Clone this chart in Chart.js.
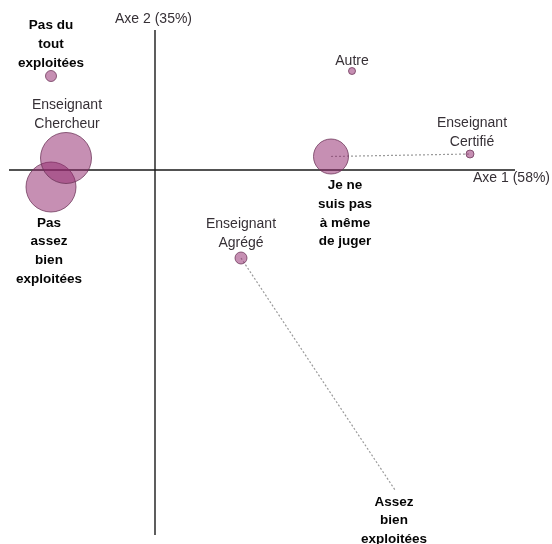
<!DOCTYPE html>
<html lang="fr">
<head>
<meta charset="utf-8">
<title>Analyse factorielle des correspondances</title>
<script src="https://cdn.jsdelivr.net/npm/chart.js@4/dist/chart.umd.min.js"></script>
<style>
  html, body { margin: 0; padding: 0; background: #fff; }
  #wrap { width: 552px; height: 544px; }
</style>
</head>
<body>
<div id="wrap"><canvas id="afc" width="552" height="544"></canvas></div>
<script>
// Modalités projetées sur le plan factoriel (Axe 1 / Axe 2)
const modalites = [
  'Pas du tout exploitées',
  'Pas assez bien exploitées',
  'Je ne suis pas à même de juger',
  'Assez bien exploitées',
  'Enseignant Chercheur',
  'Autre',
  'Enseignant Certifié',
  'Enseignant Agrégé'
];
// Coordonnées factorielles
const axe1 = [-1.04, -1.04, 1.76, 2.40, -0.89, 1.97, 3.15, 0.86];
const axe2 = [0.94, -0.17, 0.135, -3.20, 0.12, 0.99, 0.16, -0.88];
// Poids des modalités (rayon des bulles)
const poids = [5.5, 25, 17.5, 0, 25.5, 3.5, 4, 6];
// Modalités mises en évidence (réponses)
const reponse = [true, true, true, true, false, false, false, false];
// Liens pointillés entre modalités (indices)
const liens = [[2, 6], [7, 3]];

const titreAxe1 = 'Axe 1 (58%)';
const titreAxe2 = 'Axe 2 (35%)';

// Mise en page des étiquettes : texte découpé en lignes, position relative au point
const etiquettes = [
  { lignes: ['Pas du', 'tout', 'exploitées'], dx: 0, dy: -13, sens: 'haut' },
  { lignes: ['Pas', 'assez', 'bien', 'exploitées'], dx: -2, dy: 36, sens: 'bas' },
  { lignes: ['Je ne', 'suis pas', 'à même', 'de juger'], dx: 14, dy: 29, sens: 'bas' },
  { lignes: ['Assez', 'bien', 'exploitées'], dx: -1, dy: 12, sens: 'bas' },
  { lignes: ['Enseignant', 'Chercheur'], dx: 1, dy: -34, sens: 'haut' },
  { lignes: ['Autre'], dx: 0, dy: -10, sens: 'haut' },
  { lignes: ['Enseignant', 'Certifié'], dx: 2, dy: -12, sens: 'haut' },
  { lignes: ['Enseignant', 'Agrégé'], dx: 0, dy: -15, sens: 'haut' }
];

const points = axe1.map((x, i) => ({ x, y: axe2[i], r: poids[i] }));

const axesPlugin = {
  id: 'axesFactoriels',
  beforeDatasetsDraw(chart) {
    const { ctx, scales: { x, y } } = chart;
    const x0 = x.getPixelForValue(0), y0 = y.getPixelForValue(0);
    ctx.save();
    ctx.strokeStyle = '#1a1a1a';
    ctx.lineWidth = 1.4;
    ctx.beginPath();
    ctx.moveTo(x.getPixelForValue(-1.46), y0);
    ctx.lineTo(x.getPixelForValue(3.60), y0);
    ctx.moveTo(x0, y.getPixelForValue(1.40));
    ctx.lineTo(x0, y.getPixelForValue(-3.65));
    ctx.stroke();

    // Liens pointillés
    ctx.strokeStyle = '#9a9a9a';
    ctx.lineWidth = 1.2;
    ctx.setLineDash([2, 2]);
    liens.forEach(([a, b]) => {
      ctx.beginPath();
      ctx.moveTo(x.getPixelForValue(axe1[a]), y.getPixelForValue(axe2[a]));
      ctx.lineTo(x.getPixelForValue(axe1[b]), y.getPixelForValue(axe2[b]));
      ctx.stroke();
    });
    ctx.restore();
  },
  afterDatasetsDraw(chart) {
    const { ctx, scales: { x, y } } = chart;
    ctx.save();
    ctx.textAlign = 'center';
    ctx.textBaseline = 'middle';
    etiquettes.forEach((e, i) => {
      const px = x.getPixelForValue(axe1[i]) + e.dx;
      const py = y.getPixelForValue(axe2[i]) + e.dy;
      const gras = reponse[i];
      const pas = gras ? 18.7 : 18.5;
      ctx.font = gras ? 'bold 13.5px "Liberation Sans", Arial, sans-serif'
                      : '14px "Liberation Sans", Arial, sans-serif';
      ctx.fillStyle = gras ? '#050505' : '#363036';
      const n = e.lignes.length;
      e.lignes.forEach((t, k) => {
        const ly = e.sens === 'haut' ? py - (n - 1 - k) * pas : py + k * pas;
        ctx.fillText(t, px, ly);
      });
    });

    // Titres des axes
    ctx.font = '14px "Liberation Sans", Arial, sans-serif';
    ctx.fillStyle = '#363036';
    ctx.textAlign = 'left';
    ctx.fillText(titreAxe2, x.getPixelForValue(0) - 40, y.getPixelForValue(1.51));
    ctx.fillText(titreAxe1, x.getPixelForValue(3.18), y.getPixelForValue(-0.08));
    ctx.restore();
  }
};

new Chart(document.getElementById('afc'), {
  type: 'bubble',
  data: {
    datasets: [{
      data: points,
      backgroundColor: 'rgba(145, 40, 110, 0.52)',
      borderColor: 'rgba(105, 50, 85, 0.75)',
      borderWidth: 1,
      hoverRadius: 0,
      clip: false
    }]
  },
  options: {
    responsive: false,
    animation: false,
    events: [],
    layout: { padding: 0, autoPadding: false },
    plugins: { legend: { display: false }, tooltip: { enabled: false } },
    scales: {
      x: { type: 'linear', min: -1.55, max: 3.97, display: false },
      y: { type: 'linear', min: -3.74, max: 1.70, display: false }
    }
  },
  plugins: [axesPlugin]
});
</script>
</body>
</html>
